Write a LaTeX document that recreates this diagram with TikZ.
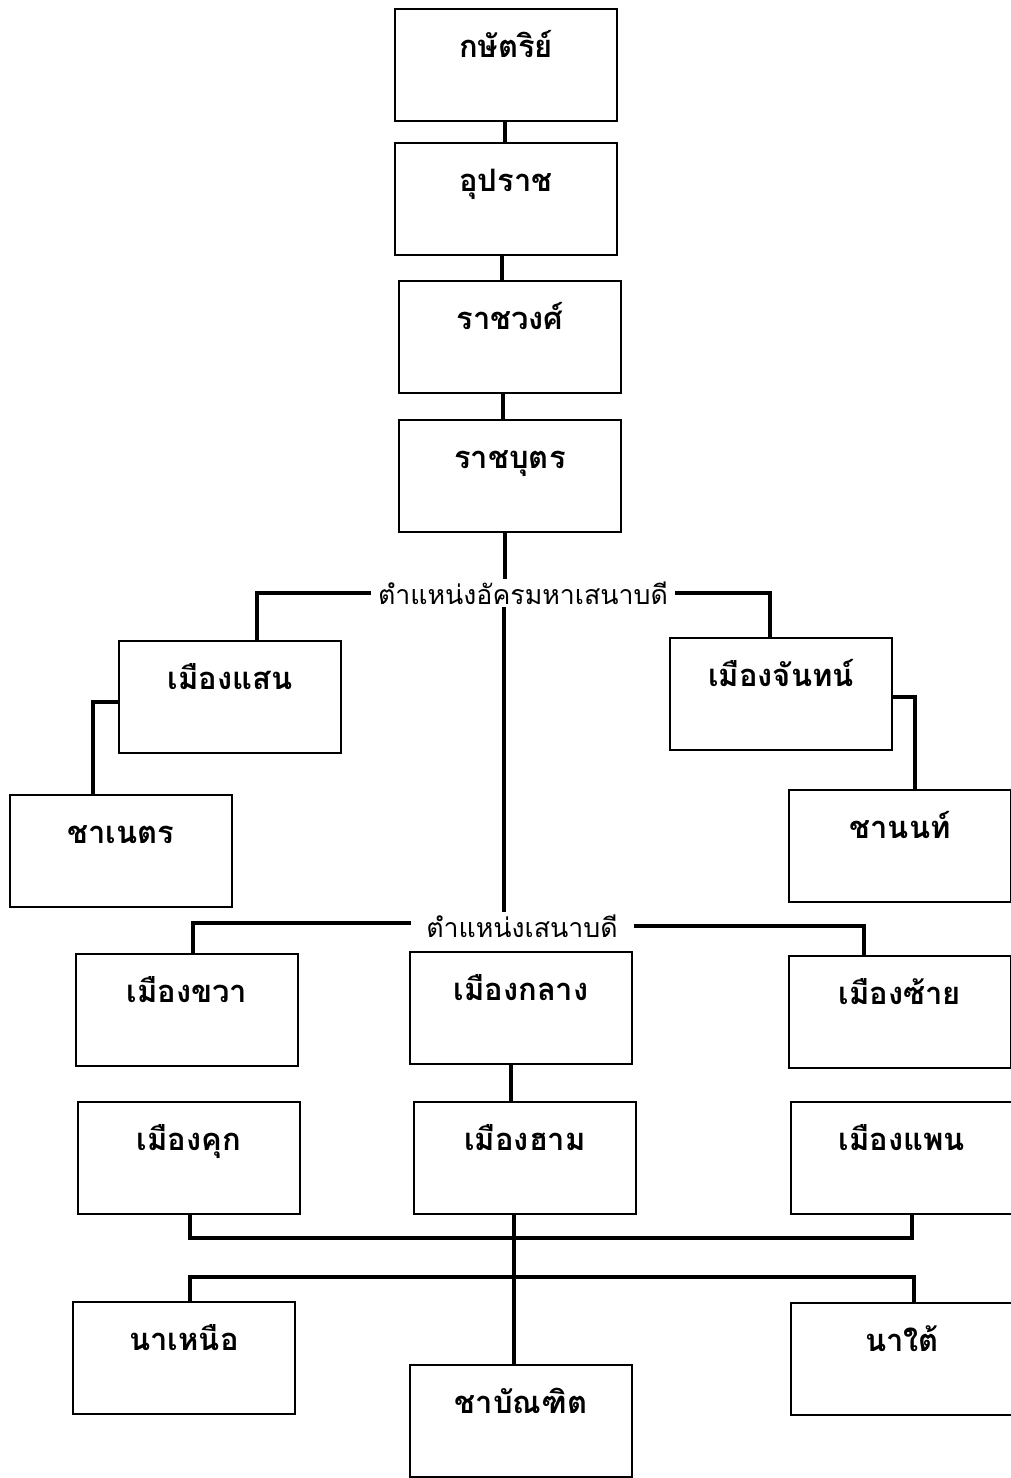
\documentclass[tikz,border=0pt]{standalone}
\usepackage{fontspec}
\newfontfamily\thaifont[Script=Thai]{Loma}
\begin{document}
\begin{tikzpicture}[
  x=0.025cm, y=-0.025cm,
  box/.style={draw,line width=1.6pt,anchor=north,minimum width=5.55cm,
    inner xsep=0pt,inner ysep=0pt,text height=1.2cm,text depth=1.6cm,
    font=\thaifont\bfseries\fontsize{22}{26}\selectfont},
  lbl/.style={inner xsep=5pt,inner ysep=2pt,font=\thaifont\fontsize{19}{23}\selectfont},
  conn/.style={line width=2.2pt},
  stem/.style={line width=2.8pt}
]
\useasboundingbox (0,0) rectangle (1011,1478);

% royal line
\node[box] (king) at (506,8) {กษัตริย์};
\node[box] (uparat) at (506,142) {อุปราช};
\node[box] (wong) at (510,280) {ราชวงศ์};
\node[box] (butr) at (510,419) {ราชบุตร};

% ministers
\node[lbl] (senior) at (523,593) {ตำแหน่งอัครมหาเสนาบดี};
\node[box] (saen) at (230,640) {เมืองแสน};
\node[box] (chan) at (781,637) {เมืองจันทน์};
\node[box] (chanet) at (121,794) {ชาเนตร};
\node[box] (chanon) at (900,789) {ชานนท์};

\node[lbl,inner xsep=11pt] (minister) at (522,926) {ตำแหน่งเสนาบดี};
\node[box] (khwa) at (187,953) {เมืองขวา};
\node[box] (klang) at (521,951) {เมืองกลาง};
\node[box] (sai) at (900,955) {เมืองซ้าย};
\node[box] (khuk) at (189,1101) {เมืองคุก};
\node[box] (ham) at (525,1101) {เมืองฮาม};
\node[box] (phaen) at (902,1101) {เมืองแพน};

\node[box] (nuea) at (184,1301) {นาเหนือ};
\node[box] (tai) at (902,1302) {นาใต้};
\node[box] (bandit) at (521,1364) {ชาบัณฑิต};

% connectors
\draw[stem] (505,0 |- king.south) -- (505,0 |- uparat.north);
\draw[stem] (502,0 |- uparat.south) -- (502,0 |- wong.north);
\draw[stem] (503,0 |- wong.south) -- (503,0 |- butr.north);
\draw[stem] (505,0 |- butr.south) -- (505,0 |- senior.north);
\draw[conn] (504,0 |- senior.south) -- (504,0 |- minister.north);
\draw[stem] (senior.west) -| (257,0 |- saen.north);
\draw[stem] (senior.east) -| (770,0 |- chan.north);
\draw[conn] (saen.west |- 0,702) -| (93,0 |- chanet.north);
\draw[conn] (chan.east |- 0,697) -| (915,0 |- chanon.north);
\draw[stem] (minister.west |- 0,923) -| (193,0 |- khwa.north);
\draw[stem] (minister.east) -| (864,0 |- sai.north);
\draw[conn] (511,0 |- klang.south) -- (511,0 |- ham.north);
\draw[stem] (190,0 |- khuk.south) -- (190,1238) -| (912,0 |- phaen.south);
\draw[conn] (514,0 |- ham.south) -- (514,0 |- bandit.north);
\draw[stem] (190,0 |- nuea.north) |- (914,1277) -- (914,0 |- tai.north);

\end{tikzpicture}
\end{document}
